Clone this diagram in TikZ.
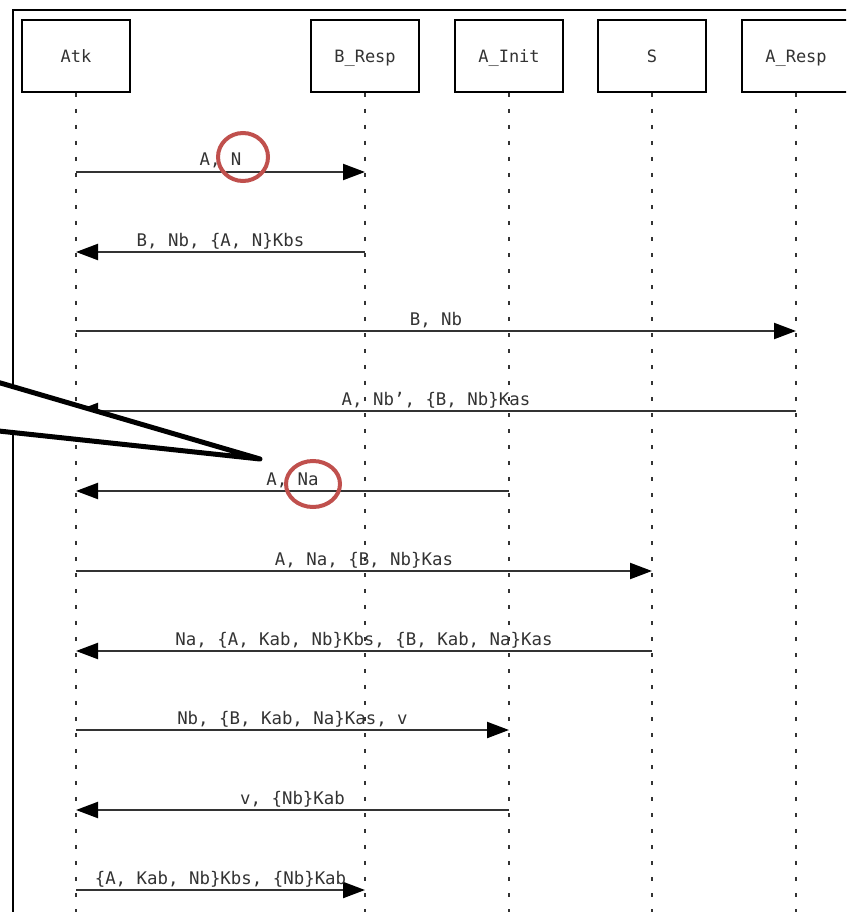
\documentclass[tikz,border=0pt]{standalone}
\usepackage{fontspec}
\newfontfamily\monofnt{DejaVu Sans Mono}
\usetikzlibrary{arrows.meta}
\definecolor{ink}{HTML}{333333}
\definecolor{callred}{HTML}{C0504D}
\tikzset{
  actor/.style={draw=black, line width=2pt, minimum width=108pt, minimum height=72pt, inner sep=0pt},
  actortext/.style={font=\monofnt\fontsize{17}{17}\selectfont, text=ink, anchor=base, inner sep=0pt},
  lifeline/.style={draw=ink, line width=2pt, dash pattern=on 4pt off 12pt},
  msg/.style={draw=ink, line width=2.2pt, -{Triangle[length=22pt,width=16pt,color=black,fill=black]}},
  lbl/.style={font=\monofnt\fontsize{17.4}{17.4}\selectfont, text=ink, anchor=base, inner sep=0pt, midway, yshift=6pt},
  ring/.style={draw=callred, line width=4pt},
  callout/.style={draw=black, line width=5pt, line join=round, line cap=round}
}
\begin{document}
\begin{tikzpicture}[x=1pt,y=-1pt]
\useasboundingbox (0,0) rectangle (846,912);
\clip (0,0) rectangle (846,912);
\fill[white] (0,0) rectangle (846,912);
% frame
\draw[line width=2pt] (13,930) -- (13,10) -- (870,10);
% actors
\node[actor] (atk)   at (76,56)  {};
\node[actor] (bresp) at (365,56) {};
\node[actor] (ainit) at (509,56) {};
\node[actor] (s)     at (652,56) {};
\node[actor] (aresp) at (796,56) {};
\node[actortext] (tatk)   at (76,63)  {Atk};
\node[actortext] (tbresp) at (365,63) {B\_Resp};
\node[actortext] (tainit) at (509,63) {A\_Init};
\node[actortext] (ts)     at (652,63) {S};
\node[actortext] (taresp) at (796,63) {A\_Resp};
% lifelines
\coordinate (bot) at (0,920);
\foreach \a in {atk,bresp,ainit,s,aresp}{
  \draw[lifeline] (\a.south) -- (\a.south |- bot);
}
% message rows
\coordinate (y1) at (0,172);
\coordinate (y2) at (0,252);
\coordinate (y3) at (0,331);
\coordinate (y4) at (0,411);
\coordinate (y5) at (0,491);
\coordinate (y6) at (0,571);
\coordinate (y7) at (0,651);
\coordinate (y8) at (0,730);
\coordinate (y9) at (0,810);
\coordinate (y10) at (0,890);
\draw[msg] (atk |- y1) -- node[lbl] (l1) {A, N} (bresp |- y1);
\draw[msg] (bresp |- y2) -- node[lbl] (l2) {B, Nb, \{A, N\}Kbs} (atk |- y2);
\draw[msg] (atk |- y3) -- node[lbl] (l3) {B, Nb} (aresp |- y3);
\draw[msg] (aresp |- y4) -- node[lbl] (l4) {A, Nb’, \{B, Nb\}Kas} (atk |- y4);
\draw[msg] (ainit |- y5) -- node[lbl] (l5) {A, Na} (atk |- y5);
\draw[msg] (atk |- y6) -- node[lbl] (l6) {A, Na, \{B, Nb\}Kas} (s |- y6);
\draw[msg] (s |- y7) -- node[lbl] (l7) {Na, \{A, Kab, Nb\}Kbs, \{B, Kab, Na\}Kas} (atk |- y7);
\draw[msg] (atk |- y8) -- node[lbl] (l8) {Nb, \{B, Kab, Na\}Kas, v} (ainit |- y8);
\draw[msg] (ainit |- y9) -- node[lbl] (l9) {v, \{Nb\}Kab} (atk |- y9);
\draw[msg] (atk |- y10) -- node[lbl] (l10) {\{A, Kab, Nb\}Kbs, \{Nb\}Kab} (bresp |- y10);
% callout
\coordinate (ctip) at (260,459);
\coordinate (cup) at (-20,377);
\coordinate (clow) at (-20,429);
\fill[white] (cup) -- (ctip) -- (clow) -- cycle;
\draw[callout] (cup) -- (ctip) -- (clow);
% highlight rings
\draw[ring] (243,157) ellipse [x radius=25pt, y radius=24pt];
\draw[ring] (313,484) ellipse [x radius=27pt, y radius=23pt];
\end{tikzpicture}
\end{document}
